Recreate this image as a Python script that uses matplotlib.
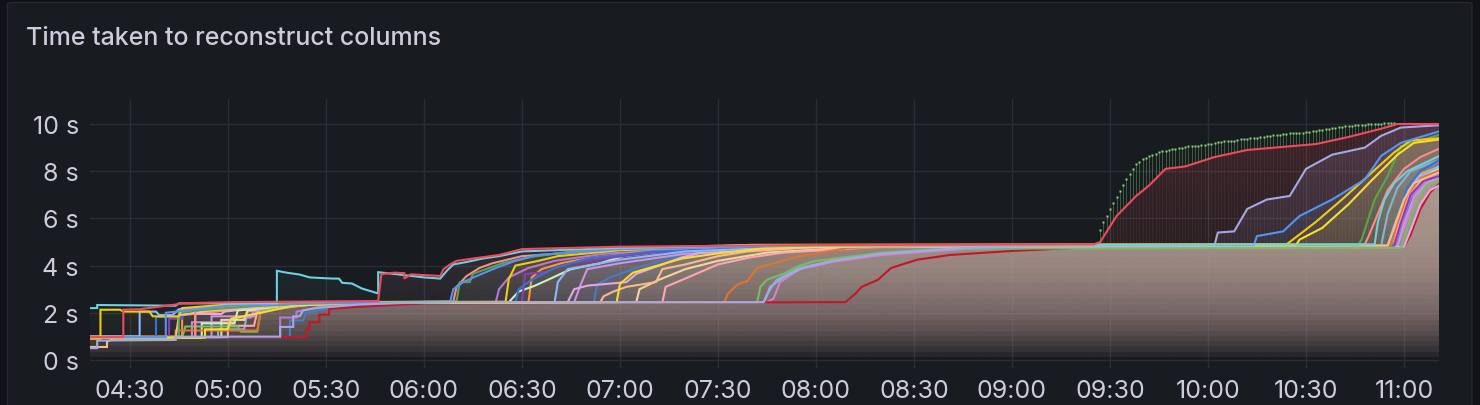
import matplotlib
matplotlib.use("Agg")
import matplotlib.pyplot as plt
import matplotlib.dates as mdates
from matplotlib.patches import FancyBboxPatch, PathPatch
from matplotlib.path import Path
from matplotlib.colors import to_rgb
import numpy as np
import pandas as pd
from datetime import datetime

# ---------------- data (time "HH:MM", value in seconds) ----------------
red_t = ["04:17","04:28","04:28","04:33","04:44","04:46","05:00","05:46","05:47","05:51","05:54","05:54","05:56","06:05","06:06","06:08","06:10","06:15","06:23","06:30","07:00","08:00","09:25","09:27","09:32","09:38","09:42","09:47","09:53","10:02","10:12","10:33","10:43","10:53","10:58","11:11"]
red_v = [0.97,0.97,2.13,2.15,2.35,2.4,2.45,2.5,3.64,3.7,3.68,3.45,3.63,3.56,3.85,4.05,4.2,4.3,4.45,4.7,4.8,4.87,4.9,5.0,6.1,6.95,7.4,8.1,8.2,8.6,8.9,9.15,9.45,9.8,10.0,10.0]

cyan_t = ["04:17","04:20","04:20","04:44","04:45","05:15","05:15","05:18","05:22","05:25","05:29","05:32","05:34","05:35","05:38","05:41","05:46","05:46","05:50","05:55","06:00","06:05","06:07","06:09","06:13","06:18","06:23","06:30","07:00","07:40","10:51","10:52","10:54","10:57","11:01","11:11"]
cyan_v = [2.2,2.2,2.33,2.3,2.4,2.4,3.78,3.7,3.62,3.5,3.47,3.45,3.45,3.27,3.24,3.03,2.82,3.72,3.66,3.58,3.5,3.45,3.78,4.05,4.15,4.3,4.4,4.6,4.75,4.85,4.9,5.85,6.8,7.5,8.0,8.66]

lav_t = ["04:17","04:20","04:20","04:44","04:44","05:16","05:16","05:20","05:20","05:22","05:23","05:27","05:40","06:00","07:44","07:46","07:50","07:56","08:05","08:20","08:45","09:10","10:02","10:03","10:08","10:12","10:18","10:25","10:30","10:38","10:48","10:53","10:59","11:11"]
lav_v = [0.5,0.5,0.82,0.85,0.99,0.99,1.4,1.4,1.85,1.85,2.1,2.2,2.35,2.45,2.45,3.1,3.5,3.9,4.2,4.5,4.75,4.85,4.87,5.4,5.45,6.4,6.8,6.95,8.1,8.7,9.0,9.5,9.85,9.95]

blue_t = ["04:17","04:41","04:41","04:47","05:00","05:30","06:08","06:09","06:12","06:16","06:22","06:28","06:35","07:00","08:00","10:14","10:15","10:23","10:28","10:38","10:48","10:53","10:59","11:11"]
blue_v = [0.97,0.97,2.0,2.1,2.3,2.4,2.45,3.0,3.3,3.55,3.9,4.2,4.45,4.7,4.85,4.87,5.25,5.45,6.1,6.8,7.65,8.65,9.2,9.7]

yel1_t = ["04:17","04:21","04:21","04:27","04:28","04:36","04:37","04:45","04:46","05:00","05:40","06:25","06:26","06:28","06:35","06:41","07:00","07:40","10:24","10:25","10:33","10:41","10:49","10:57","11:02","11:11"]
yel1_v = [0.9,0.9,2.13,2.13,2.05,2.05,1.85,1.85,2.2,2.35,2.45,2.47,3.43,4.0,4.2,4.4,4.65,4.88,4.9,5.0,5.85,6.8,7.8,8.8,9.3,9.4]

yel2_t = ["04:17","04:53","04:53","05:00","05:01","05:10","05:20","05:40","06:59","07:00","07:04","07:09","07:19","07:29","07:45","08:30","10:27","10:28","10:35","10:43","10:50","10:58","11:03","11:11"]
yel2_v = [0.95,0.95,1.3,1.3,1.75,2.0,2.3,2.42,2.45,3.22,3.7,3.9,4.3,4.5,4.75,4.85,4.88,5.1,5.6,6.6,7.6,8.7,9.2,9.35]

dkgreen_t = ["04:17","04:45","04:45","04:50","05:10","05:40","06:10","06:11","06:14","06:15","06:20","06:24","06:32","06:45","07:30","10:46","10:47","10:51","10:55","10:59","11:11"]
dkgreen_v = [0.95,0.95,2.0,2.1,2.3,2.45,2.5,3.3,3.3,3.65,3.9,4.1,4.35,4.6,4.85,4.9,5.1,6.8,7.8,9.05,9.55]

salmon_t = ["04:17","04:50","04:50","05:00","05:30","06:09","06:10","06:13","06:17","06:21","06:30","07:00","07:40","10:48","10:49","10:52","10:55","11:00","11:05","11:11"]
salmon_v = [0.97,0.97,2.1,2.25,2.42,2.47,3.1,3.55,3.9,4.1,4.4,4.7,4.87,4.9,5.2,6.2,7.2,8.1,8.6,8.97]

peach_t = ["04:17","04:23","04:23","04:25","04:44","04:45","04:55","05:30","06:54","06:55","06:58","07:02","07:11","07:13","07:20","07:30","07:39","08:00","10:55","10:57","11:00","11:03","11:11"]
peach_v = [0.55,0.55,0.78,0.9,0.9,1.9,2.1,2.4,2.45,2.7,2.9,3.1,3.3,3.85,4.05,4.4,4.6,4.8,4.85,5.6,6.8,7.5,7.96]

orange_t = ["04:17","04:44","04:44","05:09","05:10","05:20","05:40","07:32","07:33","07:36","07:39","07:42","07:47","07:55","08:10","08:40","10:56","10:58","11:01","11:05","11:11"]
orange_v = [0.97,0.97,1.25,1.25,2.0,2.3,2.45,2.45,2.8,3.2,3.35,3.9,4.1,4.4,4.75,4.85,4.85,5.8,7.0,7.7,8.05]

ltgreen_t = ["04:17","04:46","04:47","05:03","05:04","05:09","05:10","05:20","05:40","07:42","07:43","07:45","07:50","07:55","08:00","08:20","08:40","10:59","11:01","11:04","11:07","11:11"]
ltgreen_v = [0.95,0.95,1.42,1.42,1.2,1.2,2.05,2.3,2.42,2.45,3.1,3.4,3.65,4.0,4.2,4.55,4.72,4.75,5.6,6.8,7.4,7.67]

ltblue_t = ["04:17","04:33","04:33","04:38","04:39","04:43","04:45","05:00","05:40","06:40","06:41","06:44","06:50","07:00","07:20","08:00","10:55","10:57","11:00","11:04","11:11"]
ltblue_v = [1.0,1.0,2.05,2.05,1.9,1.9,2.15,2.3,2.45,2.45,3.3,3.85,4.0,4.25,4.6,4.82,4.85,5.7,6.8,7.7,8.23]

blue2_t = ["04:17","04:38","04:38","04:46","04:46","04:50","05:10","05:40","06:28","06:29","06:33","06:40","06:50","07:10","08:00","10:56","10:58","11:01","11:05","11:11"]
blue2_v = [0.97,0.97,1.82,1.82,2.0,2.2,2.35,2.45,2.45,3.0,3.4,3.9,4.3,4.6,4.85,4.85,6.0,7.3,8.0,8.5]

purple_t = ["04:17","04:42","04:42","04:46","04:46","05:00","05:40","06:30","06:31","06:37","06:43","06:55","07:10","08:00","10:57","10:59","11:02","11:06","11:11"]
purple_v = [0.97,0.97,1.75,1.75,2.05,2.3,2.45,2.45,3.64,3.72,4.05,4.3,4.55,4.82,4.85,5.8,7.0,7.6,7.8]

mint_t = ["04:17","04:52","04:52","05:02","05:03","05:20","05:40","06:26","06:29","06:34","06:38","06:45","06:54","07:01","07:13","07:40","10:56","10:58","11:01","11:05","11:11"]
mint_v = [0.95,0.95,1.55,1.55,2.1,2.3,2.45,2.45,2.9,3.15,3.4,3.85,4.1,4.4,4.6,4.8,4.85,5.9,7.1,7.8,8.1]

pink_t = ["04:17","04:50","04:50","04:58","04:59","05:15","05:40","06:44","06:46","06:50","07:02","07:05","07:09","07:19","07:25","08:00","11:00","11:02","11:05","11:08","11:11"]
pink_v = [0.97,0.97,1.95,1.95,2.05,2.3,2.45,2.45,3.0,3.15,3.3,3.65,3.85,4.35,4.55,4.78,4.8,5.5,6.6,7.2,7.41]

lilac_t = ["04:17","04:55","04:55","05:08","05:09","05:25","05:40","06:46","06:48","06:50","07:00","07:20","08:00","10:58","11:00","11:03","11:07","11:11"]
lilac_v = [0.97,0.97,1.85,1.85,2.1,2.35,2.45,2.45,3.2,3.85,4.1,4.5,4.8,4.82,5.8,6.9,7.5,7.75]

rose_t = ["04:17","05:00","05:00","05:08","05:09","05:25","05:40","07:13","07:14","07:20","07:30","07:40","07:50","08:20","10:56","10:58","11:01","11:05","11:11"]
rose_v = [0.97,0.97,1.45,1.45,2.05,2.35,2.45,2.45,3.1,3.45,4.05,4.35,4.55,4.8,4.82,5.6,6.9,7.7,8.0]

amber_t = ["04:17","04:46","04:46","05:00","05:20","05:40","06:32","06:33","06:36","06:42","06:50","07:05","07:40","10:56","10:58","11:01","11:05","11:11"]
amber_v = [1.0,1.0,1.9,2.1,2.3,2.45,2.45,3.5,3.85,4.1,4.3,4.55,4.82,4.85,5.9,7.0,7.9,8.2]

dkred_t = ["04:17","05:24","05:24","05:25","05:25","05:28","05:28","05:31","05:31","05:40","06:00","08:09","08:12","08:14","08:19","08:23","08:31","08:41","09:00","09:20","09:40","11:00","11:02","11:05","11:08","11:11"]
dkred_v = [0.97,0.97,1.3,1.3,1.6,1.6,1.92,1.92,2.16,2.25,2.4,2.45,2.8,3.1,3.4,3.9,4.25,4.45,4.62,4.75,4.8,4.8,5.3,6.4,7.1,7.5]

magenta_t = ["04:17","05:16","05:16","05:21","05:21","05:30","05:45","06:22","06:23","06:26","06:32","06:40","06:55","07:30","10:57","10:59","11:02","11:06","11:11"]
magenta_v = [0.97,0.97,1.8,1.8,2.05,2.3,2.45,2.45,3.0,3.5,3.9,4.2,4.5,4.8,4.83,5.7,6.9,7.6,7.9]

steel_t = ["04:17","05:19","05:19","05:23","05:24","05:35","05:50","06:52","06:53","06:57","07:05","07:15","07:35","08:10","10:58","11:00","11:03","11:07","11:11"]
steel_v = [0.97,0.97,1.67,1.67,2.0,2.3,2.45,2.45,3.2,3.5,3.9,4.3,4.65,4.82,4.84,5.9,7.1,7.9,8.3]

sky_t = ["04:17","04:57","04:57","05:05","05:06","05:20","05:40","07:44","07:46","07:48","07:55","08:05","08:20","08:45","09:10","10:53","10:55","10:58","11:02","11:11"]
sky_v = [0.97,0.97,1.3,1.3,2.05,2.3,2.45,2.45,3.0,3.4,3.9,4.2,4.5,4.72,4.8,4.85,6.2,7.3,8.0,8.5]

orchid_t = ["04:17","04:49","04:49","05:02","05:02","05:07","05:08","05:25","05:45","07:45","07:47","07:49","07:55","08:05","08:20","08:45","09:10","10:58","11:00","11:03","11:07","11:11"]
orchid_v = [0.97,0.97,1.6,1.6,1.8,1.8,2.1,2.35,2.45,2.45,2.6,3.3,3.85,4.15,4.45,4.7,4.8,4.82,5.6,6.7,7.4,7.7]

sand_t = ["04:17","04:58","04:58","05:05","05:06","05:25","05:45","07:05","07:06","07:12","07:20","07:30","07:45","08:15","10:57","10:59","11:02","11:06","11:11"]
sand_v = [0.97,0.97,1.7,1.7,2.1,2.35,2.45,2.45,3.0,3.4,3.85,4.2,4.55,4.8,4.83,5.8,7.0,7.7,8.0]

# spiky series sampled each minute from 09:27
spike_start = "09:27"
spike_v = [5.5,5.85,6.1,6.4,6.65,6.9,7.15,7.4,7.65,7.9,8.1,8.3,8.4,8.5,8.58,8.65,8.7,8.75,8.8,8.85,
           8.87,8.9,8.92,8.95,8.97,9.0,9.02,9.05,9.05,9.05,9.08,9.1,9.12,
           9.15,9.17,9.2,9.22,9.25,9.26,9.28,9.29,9.3,9.32,9.35,9.36,9.38,9.39,9.4,9.42,9.45,9.47,9.5,
           9.51,9.52,9.54,9.55,9.57,9.58,9.6,9.61,9.62,9.63,9.64,9.65,9.67,9.7,9.72,9.74,9.76,9.78,
           9.8,9.82,9.84,9.86,9.88,9.9,9.91,9.93,9.94,9.95,9.96,9.97,9.98,9.99,10.0,10.01,10.02,10.03,
           10.04,10.05,10.05]

series = [
    (steel_t, steel_v, "#447EBC"),
    (sky_t, sky_v, "#82B5D8"),
    (orchid_t, orchid_v, "#D683CE"),
    (sand_t, sand_v, "#F4D598"),
    (magenta_t, magenta_v, "#B877D9"),
    (dkred_t, dkred_v, "#C4162A"),
    (amber_t, amber_v, "#FF9830"),
    (rose_t, rose_v, "#FFA6B0"),
    (lilac_t, lilac_v, "#CA95E5"),
    (pink_t, pink_v, "#E5A8E2"),
    (mint_t, mint_v, "#C8F2C2"),
    (purple_t, purple_v, "#8F3BB8"),
    (blue2_t, blue2_v, "#3274D9"),
    (ltblue_t, ltblue_v, "#8AB8FF"),
    (ltgreen_t, ltgreen_v, "#73BF69"),
    (orange_t, orange_v, "#E0752D"),
    (peach_t, peach_v, "#F9BA8F"),
    (salmon_t, salmon_v, "#FA8C8C"),
    (dkgreen_t, dkgreen_v, "#56A64B"),
    (yel2_t, yel2_v, "#FADE2A"),
    (yel1_t, yel1_v, "#F2CC0C"),
    (blue_t, blue_v, "#5794F2"),
    (lav_t, lav_v, "#A2A8E8"),
    (cyan_t, cyan_v, "#6ED0E0"),
    (red_t, red_v, "#F2495C"),
]

y_ticks = [0, 2, 4, 6, 8, 10]
title = "Time taken to reconstruct columns"

# ---------------- helpers ----------------
DAY = "2024-01-01 "
def tnum(ts):
    return mdates.date2num([datetime.strptime(DAY + t, "%Y-%m-%d %H:%M") for t in ts])

W, H = 1480, 406
BG_OUT = "#111217"
BG = "#181b1f"
TXT = "#ccccdc"
GRID = "#2a2d33"

plt.rcParams['font.family'] = ['Inter', 'DejaVu Sans']

fig = plt.figure(figsize=(W / 100, H / 100), dpi=100, facecolor=BG_OUT)
panel = FancyBboxPatch((7.5 / W, -0.05), (1472 - 7.5) / W, 1.05 - 3.5 / H,
                       boxstyle="round,pad=0,rounding_size=0.004",
                       transform=fig.transFigure, facecolor=BG, edgecolor="#25282e",
                       linewidth=1.0, zorder=-10)
fig.patches.append(panel)
fig.text(26 / W, 1 - 38.5 / H, title, color=TXT, fontsize=18, fontweight=500,
         va="center", ha="left", zorder=5)

ax_l, ax_r, ax_t, ax_b = 90, 1439, 100, 369
ax = fig.add_axes([ax_l / W, 1 - ax_b / H, (ax_r - ax_l) / W, (ax_b - ax_t) / H])
ax.set_facecolor("none")
ax.set_zorder(2)

xmin = mdates.date2num(datetime(2024, 1, 1, 4, 17, 48))
xmax = mdates.date2num(datetime(2024, 1, 1, 11, 10, 42))
ymin, ymax = -0.34, 11.06
ax.set_xlim(xmin, xmax)
ax.set_ylim(ymin, ymax)

FO = 0.2
for ts, vs, col in series:
    x = tnum(ts)
    v = np.array(vs, dtype=float)
    n = min(len(x), len(v))
    x, v = x[:n], v[:n]
    verts = [(x[0], 0.0)] + list(zip(x, v)) + [(x[-1], 0.0), (x[0], 0.0)]
    patch = PathPatch(Path(verts, closed=True), facecolor="none", edgecolor="none",
                      transform=ax.transData)
    ax.add_patch(patch)
    grad = np.zeros((256, 1, 4))
    grad[:, 0, :3] = to_rgb(col)
    grad[:, 0, 3] = np.linspace(0.0, FO, 256)
    im = ax.imshow(grad, extent=(xmin, xmax, ymin, ymax), origin="lower",
                   aspect="auto", interpolation="bilinear", zorder=1)
    im.set_clip_path(patch)

# spiky series
spike_x = mdates.date2num(pd.date_range(DAY + spike_start, periods=len(spike_v), freq="min"))
red_at = np.interp(spike_x, tnum(red_t), red_v)
sv = np.array(spike_v)
ax.vlines(spike_x, 4.9, red_at, color="#96D98D", lw=0.6, alpha=0.08, zorder=2)
ax.vlines(spike_x, red_at, sv, color="#7EC26F", lw=0.6, alpha=0.45, zorder=2)
ax.plot(spike_x, sv, ls="none", marker="s", ms=1.5, mec="none", color="#8CD67E", zorder=3)

for ts, vs, col in series:
    x = tnum(ts)
    n = min(len(x), len(vs))
    ax.plot(x[:n], vs[:n], color=col, lw=1.5, zorder=4, solid_joinstyle="miter")

# axes styling
for s in ax.spines.values():
    s.set_visible(False)
ax.set_yticks(y_ticks)
ax.set_yticklabels([f"{t} s" for t in y_ticks])
ax.xaxis.set_major_locator(mdates.MinuteLocator(byminute=[0, 30]))
ax.xaxis.set_major_formatter(mdates.DateFormatter("%H:%M"))
ax.tick_params(axis="both", length=0, colors=TXT, labelsize=18)
ax.tick_params(axis="y", pad=8)
ax.tick_params(axis="x", pad=8)
ax.grid(True, color=GRID, lw=1.0, zorder=0)
ax.set_axisbelow(True)

fig.savefig("out.png", dpi=100, facecolor=BG_OUT)
